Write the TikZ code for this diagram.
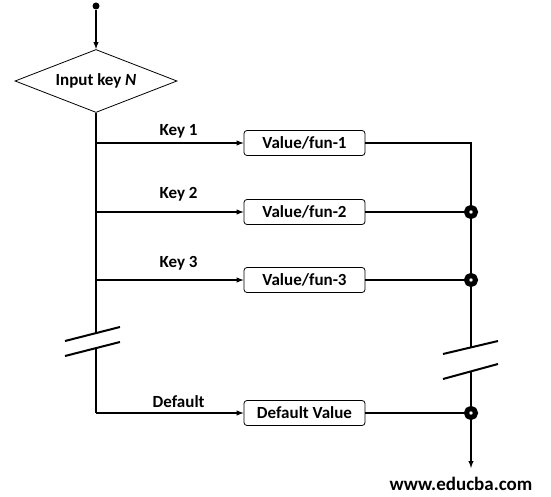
\documentclass[tikz,border=0pt]{standalone}
\usepackage{fontspec}
\setmainfont{Carlito}
\usepackage{tikz}
\usetikzlibrary{shapes,arrows}
\usetikzlibrary{shapes.geometric}
\usetikzlibrary{positioning}
\tikzstyle{dot} = [circle, fill, minimum size=7pt, inner sep=0pt]
\tikzstyle{decision} = [diamond, draw, line width=0.8pt, aspect=2.57, minimum width=162pt, minimum height=63pt, inner sep=0pt, font=\bfseries\fontsize{17}{19}\selectfont]
\tikzstyle{valuebox} = [draw, line width=0.8pt, rounded corners=3pt, minimum width=121pt, minimum height=25pt, inner sep=0pt, font=\bfseries\fontsize{17}{19}\selectfont]
\tikzstyle{keylabel} = [anchor=base, inner sep=0pt, font=\bfseries\fontsize{17}{19}\selectfont]
\tikzstyle{joint} = [circle, draw, line width=5pt, fill=white, inner sep=0pt, minimum size=9pt]
\tikzstyle{breakmark} = [line width=2pt]

\begin{document}
\begin{tikzpicture}[x=1pt, y=-1pt, line width=1.4pt, >=latex]
    \useasboundingbox (0,0) rectangle (551,497);

    % input and decision
    \node [dot, name=start] at (96,6) {};
    \node [decision, name=input] at (96,81) {Input key \textit{N}};

    % value boxes
    \node [valuebox, name=val1] at (304.5,143) {Value/fun-1};
    \node [valuebox, name=val2] at (304.5,212) {Value/fun-2};
    \node [valuebox, name=val3] at (304.5,280) {Value/fun-3};
    \node [valuebox, name=valdef] at (304.5,413) {Default Value};

    % branch points on the left line
    \coordinate (key1) at (96,143);
    \coordinate (key2) at (96,212);
    \coordinate (key3) at (96,280);
    \coordinate (lefttop) at (96,333);
    \coordinate (leftbot) at (96,348);
    \coordinate (keydef) at (96,413);

    % joints on the right line
    \coordinate (right1) at (471,143);
    \node [joint, name=join2] at (471,212) {};
    \node [joint, name=join3] at (471,280) {};
    \node [joint, name=joindef] at (471,413) {};
    \coordinate (righttop) at (471,347);
    \coordinate (rightbot) at (471,371);
    \coordinate (output) at (471,468);

    \draw [->] (start) -- (input.north);
    \draw (input.south) -- (key1) -- (key2) -- (key3) -- (lefttop);
    \draw (leftbot) -- (keydef);

    \draw [->] (key1) -- node[keylabel, pos=0.56, yshift=7pt] {Key 1} (val1.west);
    \draw [->] (key2) -- node[keylabel, pos=0.56, yshift=14pt] {Key 2} (val2.west);
    \draw [->] (key3) -- node[keylabel, pos=0.56, yshift=13pt] {Key 3} (val3.west);
    \draw [->] (keydef) -- node[keylabel, pos=0.56, yshift=6pt] {Default} (valdef.west);

    \draw (val1.east) -- (right1) -- (join2);
    \draw (val2.east) -- (join2);
    \draw (join2) -- (join3);
    \draw (val3.east) -- (join3);
    \draw (join3) -- (righttop);
    \draw (rightbot) -- (joindef);
    \draw (valdef.east) -- (joindef);
    \draw [->] (joindef) -- (output);

    % break marks
    \draw [breakmark] (65,341) -- (120,327);
    \draw [breakmark] (65,356) -- (120,342);
    \draw [breakmark] (443,354) -- (498,341);
    \draw [breakmark] (443,379) -- (498,364);

    \node [keylabel, name=site, font=\bfseries\fontsize{19}{21}\selectfont] at (461,490) {www.educba.com};
\end{tikzpicture}
\end{document}
